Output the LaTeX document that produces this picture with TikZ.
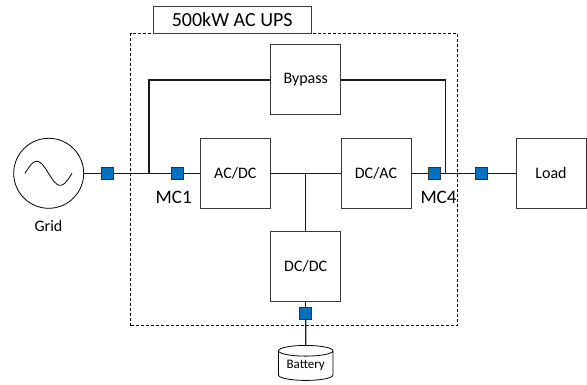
\documentclass[tikz,border=0pt]{standalone}
\usepackage{fontspec}
\setmainfont{Carlito}
\usetikzlibrary{shapes.geometric, positioning, calc}
\definecolor{contactblue}{HTML}{0070C0}
\definecolor{boxline}{HTML}{3A3A3A}
\definecolor{wireline}{HTML}{1A1A1A}
\tikzset{
    block/.style={draw=boxline, line width=1pt, fill=white, minimum size=70pt, inner sep=0pt, font=\fontsize{16}{18}\selectfont},
    contact/.style={draw=black!80, line width=0.8pt, fill=contactblue, minimum size=12pt, inner sep=0pt},
    wire/.style={draw=wireline, line width=1.4pt},
    busline/.style={draw=wireline, line width=1.5pt},
    tag/.style={inner sep=0pt, font=\fontsize{19}{21}\selectfont}
}
\begin{document}
\begin{tikzpicture}[x=1pt, y=-1pt]
\useasboundingbox (0,0) rectangle (587,385);
% UPS frame and its title
\node[draw=black, densely dashed, line width=0.8pt, minimum width=326.6pt, minimum height=292.4pt, inner sep=0pt] (frame) at (294,179.5) {};
\node[draw=boxline, line width=1pt, fill=white, minimum width=157.7pt, minimum height=27pt, inner sep=0pt, font=\fontsize{20}{22}\selectfont] (title) at (232.2,19.8) {500kW AC UPS};
% Source
\node[draw=black, circle, line width=0.8pt, minimum size=70pt, inner sep=0pt] (grid) at (48.7,173.3) {};
\draw[black, line width=0.8pt] plot[domain=0:360, samples=40, smooth] ({25+0.13056*\x},{173.3-12*sin(\x)});
\node[font=\fontsize{16}{18}\selectfont, inner sep=0pt] (gridtag) at (48.5,226) {Grid};
% Blocks
\foreach \id/\x/\y/\name in {
    acdc/235.3/173.3/AC\slash DC,
    bypass/305.7/80/Bypass,
    dcac/376/173.3/DC\slash AC,
    dcdc/305.7/266.7/DC\slash DC,
    load/551/173.3/Load
} {
    \node[block] (\id) at (\x,\y) {\name};
}
% Contactors
\foreach \id/\x/\y in {
    cin/107.5/173.3,
    cone/177.5/173.3,
    cfour/434.3/173.3,
    cout/481/173.3,
    cbat/305.7/313.8
} {
    \node[contact] (\id) at (\x,\y) {};
}
\node[tag] (mcone) at (173.7,197) {MC1};
\node[tag] (mcfour) at (438.5,197) {MC4};
% Battery
\node[draw=black, cylinder, shape border rotate=90, aspect=0.28, line width=0.8pt, minimum width=54.4pt, minimum height=35pt, inner sep=0pt, font=\fontsize{13}{15}\selectfont] (battery) at (305.7,365.8) {Battery};
\coordinate (jleft) at (149,173.3);
\coordinate (jright) at (445.7,173.3);
\coordinate (jmid) at (305.7,173.3);
% Wires
\draw[wire] (grid) -- (cin);
\draw[wire] (cin) -- (cone);
\draw[wire] (cone) -- (acdc);
\draw[wire] (acdc) -- (dcac);
\draw[wire] (dcac) -- (cfour);
\draw[wire] (cfour) -- (cout);
\draw[wire] (cout) -- (load);
\draw[wire] (jmid) -- (dcdc);
\draw[wire] (dcdc) -- (cbat);
\draw[wire] (cbat) -- (battery);
\draw[busline] (jleft) |- (bypass);
\draw[busline] (bypass) -| (jright);
\end{tikzpicture}
\end{document}
